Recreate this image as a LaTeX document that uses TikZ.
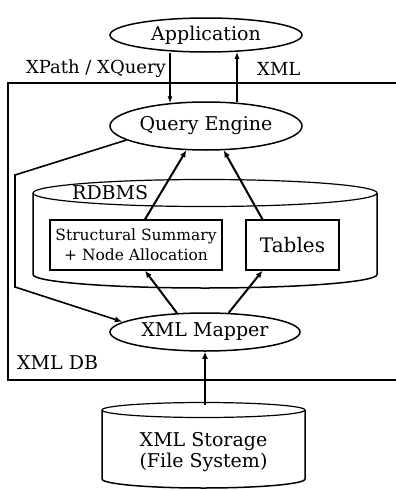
\documentclass[tikz,border=0pt]{standalone}
\usepackage{fontspec}
\setmainfont{DejaVu Serif}
\usetikzlibrary{shapes.geometric,arrows.meta,calc}
\tikzset{
  ell/.style={draw, ellipse, line width=1.5pt, inner sep=0pt},
  boxx/.style={draw, line width=1.3pt, inner sep=0pt, align=center},
  arr/.style={line width=2pt, -{Latex[length=7pt,width=6pt]}},
  thinarr/.style={line width=1.3pt, -{Latex[length=7pt,width=5pt]}},
  lbl/.style={inner sep=0pt, font=\fontsize{18}{20}\selectfont},
  big/.style={font=\fontsize{19}{21}\selectfont},
}
\begin{document}
\begin{tikzpicture}[x=1pt,y=-1pt]
\useasboundingbox (0,0) rectangle (396,490);
% XML DB frame
\draw[line width=1.2pt] (400,83) -- (8,83) -- (8,380) -- (400,380);
\node[lbl, anchor=west, big] (xmldb) at (17,363) {XML DB};
% ellipses
\node[ell, minimum width=192pt, minimum height=34pt, big] (app) at (206,35) {Application};
\node[ell, minimum width=192pt, minimum height=48pt, big] (qe) at (206,126) {Query Engine};
\node[ell, minimum width=190pt, minimum height=38pt, big] (mapper) at (205,332) {XML Mapper};
% RDBMS cylinder
\draw[line width=1.2pt] (205,193) ellipse (172 and 13.5);
\draw[line width=1.5pt] (33,193) -- (33,274.5) arc[start angle=180, end angle=360, x radius=172, y radius=-13.5] -- (377,193);
\node[lbl, anchor=west, big] (rdbms) at (72,193) {RDBMS};
\node[boxx, minimum width=172pt, minimum height=50pt, font=\fontsize{15.5}{20}\selectfont] (ss) at (136,245) {Structural Summary\\+ Node Allocation};
\node[boxx, minimum width=93pt, minimum height=50pt, font=\fontsize{20}{22}\selectfont] (tables) at (292.5,245) {Tables};
% storage cylinder
\draw[line width=1.2pt] (203.5,410) ellipse (101.5 and 7.5);
\draw[line width=1.5pt] (102,410) -- (102,479) arc[start angle=180, end angle=360, x radius=101.5, y radius=-9] -- (305,410);
\node[align=center, inner sep=0pt, font=\fontsize{19}{21}\selectfont] (storage) at (203.5,452) {XML Storage\\(File System)};
\coordinate (stortop) at (205,405);
% labels
\node[lbl, anchor=east] (xq) at (166,69) {XPath / XQuery};
\node[lbl, anchor=west] (xml) at (257,69) {XML};
% app <-> qe
\coordinate (xa) at (170,0);
\coordinate (xb) at (237,0);
\draw[thinarr] (app.south -| xa) -- ($(qe.north -| xa)+(0,2)$);
\draw[line width=1.6pt, -{Latex[length=7pt,width=5pt]}] ($(qe.north -| xb)+(0,1)$) -- ($(app.south -| xb)+(0,-1)$);
% internal arrows
\draw[arr] ($(ss.north)+(9,0)$) -- (qe.231);
\draw[arr] ($(tables.north)+(-30,0)$) -- (qe.306);
\draw[arr] (mapper.146) -- ($(ss.south)+(9,0)$);
\draw[arr] (mapper.39) -- ($(tables.south)+(-30,0)$);
\draw[arr] (stortop) -- (mapper.south);
% left polyline
\draw[line width=1.6pt, -{Latex[length=8pt,width=6pt]}] (qe.190) -- (15,175) -- (15,287) -- (mapper.173);
\end{tikzpicture}
\end{document}
